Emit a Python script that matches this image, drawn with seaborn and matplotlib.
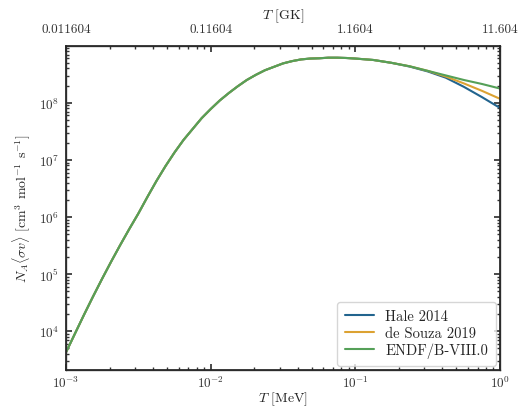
import numpy as np
import pandas as pd
import matplotlib
matplotlib.use("Agg")
import matplotlib.pyplot as plt
import seaborn as sns

# log10 of temperature in MeV
log_T = [-3.0, -2.9375, -2.875, -2.8125, -2.75, -2.6875, -2.625, -2.5625, -2.5,
         -2.4375, -2.375, -2.3125, -2.25, -2.1875, -2.125, -2.0625, -2.0,
         -1.9375, -1.875, -1.8125, -1.75, -1.6875, -1.625, -1.5625, -1.5,
         -1.4375, -1.375, -1.3125, -1.25, -1.1875, -1.125, -1.0625, -1.0,
         -0.875, -0.75, -0.625, -0.5, -0.375, -0.25, -0.125, 0.0]
# log10 of reaction rate N_A<sigma v> (common low-T part)
log_common = [3.63, 3.96, 4.29, 4.61, 4.92, 5.22, 5.51, 5.79, 6.06,
              6.35, 6.63, 6.89, 7.13, 7.35, 7.54, 7.73, 7.89,
              8.04, 8.17, 8.29, 8.40, 8.49, 8.57, 8.63, 8.69,
              8.73, 8.76, 8.775, 8.78, 8.79, 8.79, 8.785, 8.775,
              8.75, 8.70]
# high-T tails (log T = -0.625 ... 0.0)
log_hale_tail = [8.635, 8.55, 8.44, 8.28, 8.10, 7.91]
log_desouza_tail = [8.64, 8.56, 8.46, 8.34, 8.21, 8.07]
log_endf_tail = [8.64, 8.56, 8.48, 8.40, 8.33, 8.25]
series_names = ["Hale 2014", "de Souza 2019", "ENDF/B-VIII.0"]
colors = ["#22648e", "#dca232", "#55a058"]
top_ticks_mev = [1e-3, 1e-2, 1e-1, 1.0]
top_labels = ["0.011604", "0.11604", "1.1604", "11.604"]

T = 10 ** np.array(log_T)
frames = []
for name, tail in zip(series_names, [log_hale_tail, log_desouza_tail, log_endf_tail]):
    vals = np.array(log_common + tail)
    frames.append(pd.DataFrame({"T": T, "rate": 10 ** vals, "source": name}))
df = pd.concat(frames, ignore_index=True)

sns.set_theme(style="ticks")
plt.rcParams["font.family"] = ["cmr10", "DejaVu Serif"]
plt.rcParams["mathtext.fontset"] = "cm"
plt.rcParams["axes.formatter.use_mathtext"] = True
plt.rcParams["axes.unicode_minus"] = False

W, H = 526, 414
fig = plt.figure(figsize=(W / 100, H / 100), dpi=100)
left, right, top, bottom = 66, 500, 47, 371
ax = fig.add_axes([left / W, 1 - bottom / H, (right - left) / W, (bottom - top) / H])
sns.lineplot(data=df, x="T", y="rate", hue="source", hue_order=series_names,
             palette=colors, linewidth=1.5, ax=ax)
ax.set_xscale("log")
ax.set_yscale("log")
ax.set_xlim(1e-3, 1.0)
ax.set_ylim(10 ** 3.32, 10 ** 8.995)
ax.set_xlabel(r"$T$ [MeV]", fontsize=10, labelpad=0)
ax.set_ylabel(r"$N_A\langle\sigma v\rangle$ [cm$^3$ mol$^{-1}$ s$^{-1}$]", fontsize=10, labelpad=4)
ax.tick_params(which="both", direction="in", top=False, right=True, labelsize=9.5, colors="#333333")
ax.tick_params(axis="x", which="major", length=4, pad=3)
ax.tick_params(axis="y", which="major", length=4, pad=5)
ax.tick_params(which="minor", length=2)
for s in ax.spines.values():
    s.set_color("#555555")
    s.set_linewidth(1.0)

leg = ax.legend(loc="lower right", fontsize=10.5, frameon=True, fancybox=True,
                handlelength=2.0, borderpad=0.5, labelspacing=0.2,
                borderaxespad=0.3)
leg.get_frame().set_edgecolor("#cccccc")

ax2 = ax.twiny()
ax2.set_xscale("log")
ax2.set_xlim(ax.get_xlim())
ax2.set_xticks(top_ticks_mev)
ax2.set_xticklabels(top_labels)
ax2.set_xlabel(r"$T$ [GK]", fontsize=10, labelpad=3)
ax2.tick_params(which="both", direction="in", labelsize=9.5, colors="#333333")
ax2.tick_params(which="major", length=4, pad=8)
ax2.tick_params(which="minor", length=2)

fig.savefig("out.png", dpi=100)
